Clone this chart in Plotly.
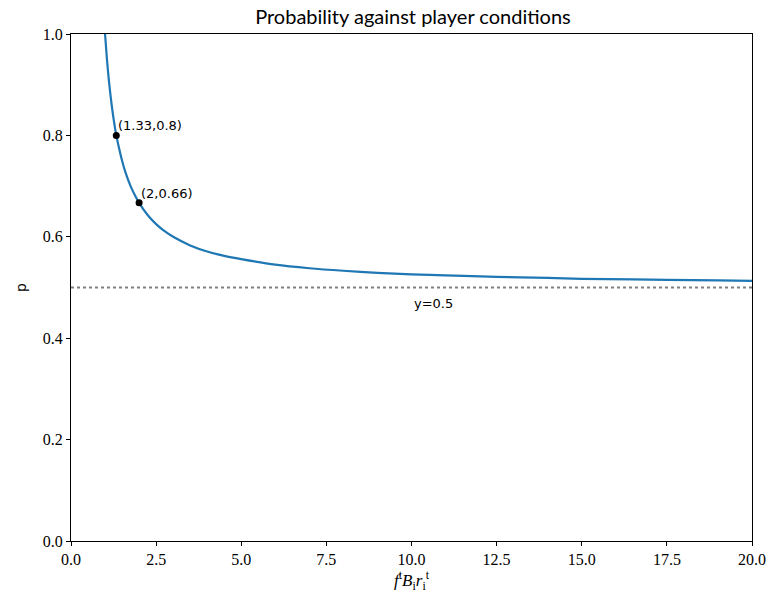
import plotly.graph_objects as go

# curve values
x_vals = [1.0, 1.05, 1.1, 1.15, 1.2, 1.25, 1.33, 1.4, 1.5, 1.6, 1.75, 1.9, 2.0, 2.25, 2.5, 2.75, 3.0, 3.5,
          4.0, 4.5, 5.0, 6.0, 7.0, 8.0, 9.0, 10.0, 11.0, 12.5, 14.0, 15.0, 16.5, 17.5, 19.0, 20.0]
p_vals = [1.0, 0.955, 0.917, 0.885, 0.857, 0.833, 0.80, 0.778, 0.75, 0.727, 0.70, 0.679, 0.667, 0.643,
          0.625, 0.611, 0.60, 0.583, 0.571, 0.5625, 0.556, 0.545, 0.538, 0.533, 0.529, 0.526, 0.524,
          0.521, 0.519, 0.517, 0.516, 0.515, 0.514, 0.513]

pt_x = [1.33, 2.0]
pt_y = [0.8, 0.667]
pt_labels = ["(1.33,0.8)", "(2,0.66)"]

ref_y = 0.5
ref_label = "y=0.5"

x_ticks = [0.0, 2.5, 5.0, 7.5, 10.0, 12.5, 15.0, 17.5, 20.0]
y_ticks = [0.0, 0.2, 0.4, 0.6, 0.8, 1.0]

fig = go.Figure()
fig.add_trace(go.Scatter(x=[0, 20], y=[ref_y, ref_y], mode="lines",
                         line=dict(color="grey", width=2, dash="dot"), hoverinfo="skip"))
fig.add_trace(go.Scatter(x=x_vals, y=p_vals, mode="lines",
                         line=dict(color="#1f77b4", width=2.2, shape="spline", smoothing=0.8)))
fig.add_trace(go.Scatter(x=pt_x, y=pt_y, mode="markers",
                         marker=dict(color="black", size=7)))

for x, y, t in zip(pt_x, pt_y, pt_labels):
    fig.add_annotation(x=x, y=y, text=t, showarrow=False, xanchor="left", yanchor="bottom",
                       xshift=0, yshift=0, font=dict(family="DejaVu Sans", size=13, color="black"))
fig.add_annotation(x=10.0, y=0.45, text=ref_label, showarrow=False, xanchor="left", yanchor="bottom",
                   font=dict(family="DejaVu Sans", size=13, color="black"))

axis_common = dict(showgrid=False, zeroline=False, showline=True, linecolor="black", linewidth=1.2,
                   mirror=True, ticks="outside", ticklen=4, tickcolor="black", automargin=False,
                   tickfont=dict(family="Liberation Serif", size=16, color="black"))

fig.update_xaxes(range=[0, 20], tickvals=x_ticks, ticktext=[f"{v:.1f}" for v in x_ticks],
                 title=dict(text="<i>f</i><sup>t</sup><i>B</i><sub>i</sub><i>r</i><sub>i</sub><sup>t</sup>",
                            font=dict(family="Liberation Serif", size=17, color="black"), standoff=2),
                 **axis_common)
fig.update_yaxes(range=[0, 1], tickvals=y_ticks, ticktext=[f"{v:.1f}" for v in y_ticks],
                 title=dict(text="p", font=dict(family="DejaVu Sans", size=14, color="black"), standoff=12),
                 **axis_common)

fig.update_layout(
    width=769, height=600,
    margin=dict(l=71, r=17, t=34, b=59, autoexpand=False),
    plot_bgcolor="white", paper_bgcolor="white",
    showlegend=False,
    title=dict(text="Probability against player conditions", x=0.537, xanchor="center",
               y=0.984, yanchor="top",
               font=dict(family="Lato", size=20, color="black")),
)

fig.write_html("out.html")
